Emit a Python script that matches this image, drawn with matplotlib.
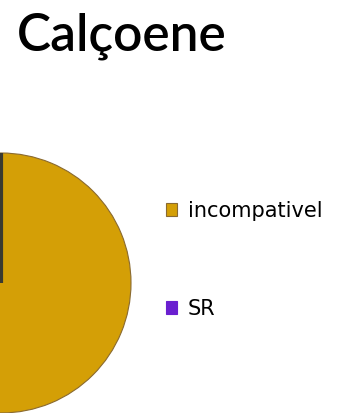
import matplotlib.pyplot as plt

# Calçoene - distribution by category
labels = ["incompativel", "SR"]
values = [100, 0]
colors = ["#d49f06", "#6a1fd0"]

W, H = 339, 413
fig = plt.figure(figsize=(W / 100, H / 100), dpi=100)

# pie centred near the left edge, partly cut off by the figure
cx, cy, r = 1, 283, 130
ax = fig.add_axes([(cx - r) / W, (H - cy - r) / H, 2 * r / W, 2 * r / H])
wedges, _ = ax.pie(values, colors=colors, startangle=90, counterclock=False,
                   wedgeprops=dict(edgecolor="#8a6a30", linewidth=0.8))
# empty SR slice shows only as a dark line
wedges[1].set_edgecolor("#3a3a30")
wedges[1].set_linewidth(3)
ax.set_xlim(-1, 1)
ax.set_ylim(-1, 1)
ax.axis("off")

fig.text(17 / W, 1 - 50 / H, "Calçoene", fontsize=37, fontweight="semibold",
         family="Lato", ha="left", va="baseline")

leg = fig.legend(wedges, labels, loc="upper left",
                 bbox_to_anchor=(166 / W, 1 - 201 / H), frameon=False,
                 fontsize=15, handlelength=0.55, handleheight=0.55,
                 handletextpad=0.5, labelspacing=3.75, borderpad=0,
                 borderaxespad=0)
for h in leg.legend_handles:
    h.set_edgecolor("#8a6a30")
    h.set_linewidth(0.8)
leg.legend_handles[1].set_edgecolor(colors[1])

fig.savefig("out.png", dpi=100)
